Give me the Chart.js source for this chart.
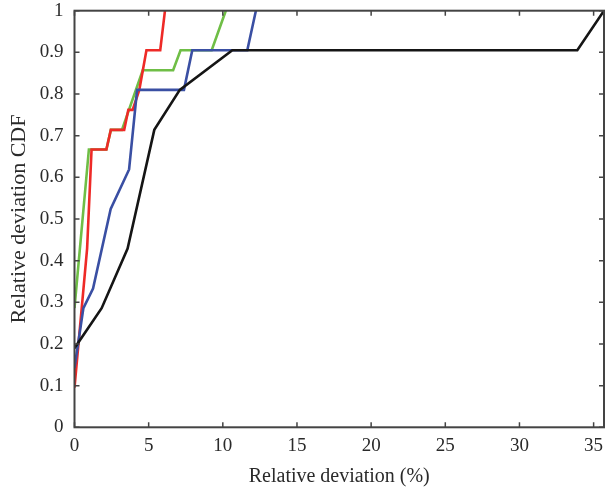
<!DOCTYPE html>
<html>
<head>
<meta charset="utf-8">
<script src="https://cdn.jsdelivr.net/npm/chart.js@4.4.0/dist/chart.umd.min.js"></script>
<style>
  html, body { margin: 0; padding: 0; background: #fff; }
  #wrap { width: 605px; height: 492px; }
</style>
</head>
<body>
<div id="wrap"><canvas id="cdfChart"></canvas></div>
<script>
// Tick values
const xTicks = [0, 5, 10, 15, 20, 25, 30, 35];
const yTicks = [0, 0.1, 0.2, 0.3, 0.4, 0.5, 0.6, 0.7, 0.8, 0.9, 1];

// Series (relative deviation %, CDF)
const redX = [0, 0.85, 1.15, 2.15, 2.45, 3.35, 3.63, 3.92, 4.37, 4.85, 5.78, 6.1];
const redY = [0.095, 0.429, 0.667, 0.667, 0.714, 0.714, 0.762, 0.762, 0.81, 0.905, 0.905, 1];

const greenX = [0, 0.97, 2.15, 2.45, 3.2, 4.6, 6.65, 7.15, 9.25, 10.2];
const greenY = [0.286, 0.667, 0.667, 0.714, 0.714, 0.857, 0.857, 0.905, 0.905, 1];

const blueX = [0, 0.6, 1.25, 2.44, 3.68, 4.22, 7.38, 7.94, 11.65, 12.23];
const blueY = [0.143, 0.286, 0.333, 0.524, 0.619, 0.81, 0.81, 0.905, 0.905, 1];

const blackX = [0, 1.83, 3.58, 5.38, 7.1, 10.64, 33.9, 35.7];
const blackY = [0.19, 0.286, 0.429, 0.714, 0.81, 0.905, 0.905, 1];

const toPoints = (xs, ys) => xs.map((x, i) => ({ x: x, y: ys[i] }));

const serif = "'Liberation Serif', 'Times New Roman', serif";
const axisColor = "#444";
const textColor = "#2a2a2a";

// box around the plot with ticks pointing inwards on all sides
const framePlugin = {
  id: "frame",
  afterDatasetsDraw(chart) {
    const { ctx, chartArea: a, scales } = chart;
    ctx.save();
    ctx.strokeStyle = axisColor;
    ctx.lineWidth = 2;
    ctx.strokeRect(a.left, a.top, a.right - a.left, a.bottom - a.top);
    ctx.lineWidth = 1.5;
    ctx.beginPath();
    xTicks.forEach((v) => {
      const px = scales.x.getPixelForValue(v);
      ctx.moveTo(px, a.bottom);
      ctx.lineTo(px, a.bottom - 5);
      ctx.moveTo(px, a.top);
      ctx.lineTo(px, a.top + 5);
    });
    yTicks.forEach((v) => {
      const py = scales.y.getPixelForValue(v);
      ctx.moveTo(a.left, py);
      ctx.lineTo(a.left + 5, py);
      ctx.moveTo(a.right, py);
      ctx.lineTo(a.right - 5, py);
    });
    ctx.stroke();
    ctx.restore();
  },
};

const makeLine = (xs, ys, color) => ({
  data: toPoints(xs, ys),
  borderColor: color,
  backgroundColor: color,
  borderWidth: 2.6,
  pointRadius: 0,
  tension: 0,
  fill: false,
});

const ctx = document.getElementById("cdfChart").getContext("2d");

new Chart(ctx, {
  type: "line",
  data: {
    datasets: [
      makeLine(blackX, blackY, "#151515"),
      makeLine(blueX, blueY, "#3a4fa3"),
      makeLine(redX, redY, "#ee2a27"),
      makeLine(greenX, greenY, "#6fbe46"),
    ],
  },
  options: {
    responsive: true,
    maintainAspectRatio: false,
    animation: false,
    layout: {
      padding: { top: 10.7, right: 1, bottom: 0, left: 0 },
    },
    plugins: {
      legend: { display: false },
      tooltip: { enabled: false },
    },
    scales: {
      x: {
        type: "linear",
        min: 0,
        max: 35.7,
        grid: { display: false, drawTicks: false },
        border: { display: false },
        afterBuildTicks: (s) => {
          s.ticks = xTicks.map((v) => ({ value: v }));
        },
        afterFit: (s) => {
          s.height = 64.7;
          s.paddingLeft = 0;
          s.paddingRight = 0;
        },
        ticks: {
          padding: 7,
          color: textColor,
          maxRotation: 0,
          font: { family: serif, size: 19 },
          callback: (v) => String(v),
        },
        title: {
          display: true,
          text: "Relative deviation (%)",
          color: textColor,
          font: { family: serif, size: 20 },
          padding: { top: 0, bottom: 3 },
        },
      },
      y: {
        type: "linear",
        min: 0,
        max: 1,
        grid: { display: false, drawTicks: false },
        border: { display: false },
        afterBuildTicks: (s) => {
          s.ticks = yTicks.map((v) => ({ value: v }));
        },
        afterFit: (s) => {
          s.width = 74.5;
          s.paddingTop = 0;
          s.paddingBottom = 0;
        },
        ticks: {
          padding: 11,
          color: textColor,
          font: { family: serif, size: 19 },
          callback: (v) => String(v),
        },
        title: {
          display: true,
          text: "Relative deviation CDF",
          color: textColor,
          font: { family: serif, size: 22 },
          padding: { top: 6, bottom: 0 },
        },
      },
    },
  },
  plugins: [framePlugin],
});
</script>
</body>
</html>
